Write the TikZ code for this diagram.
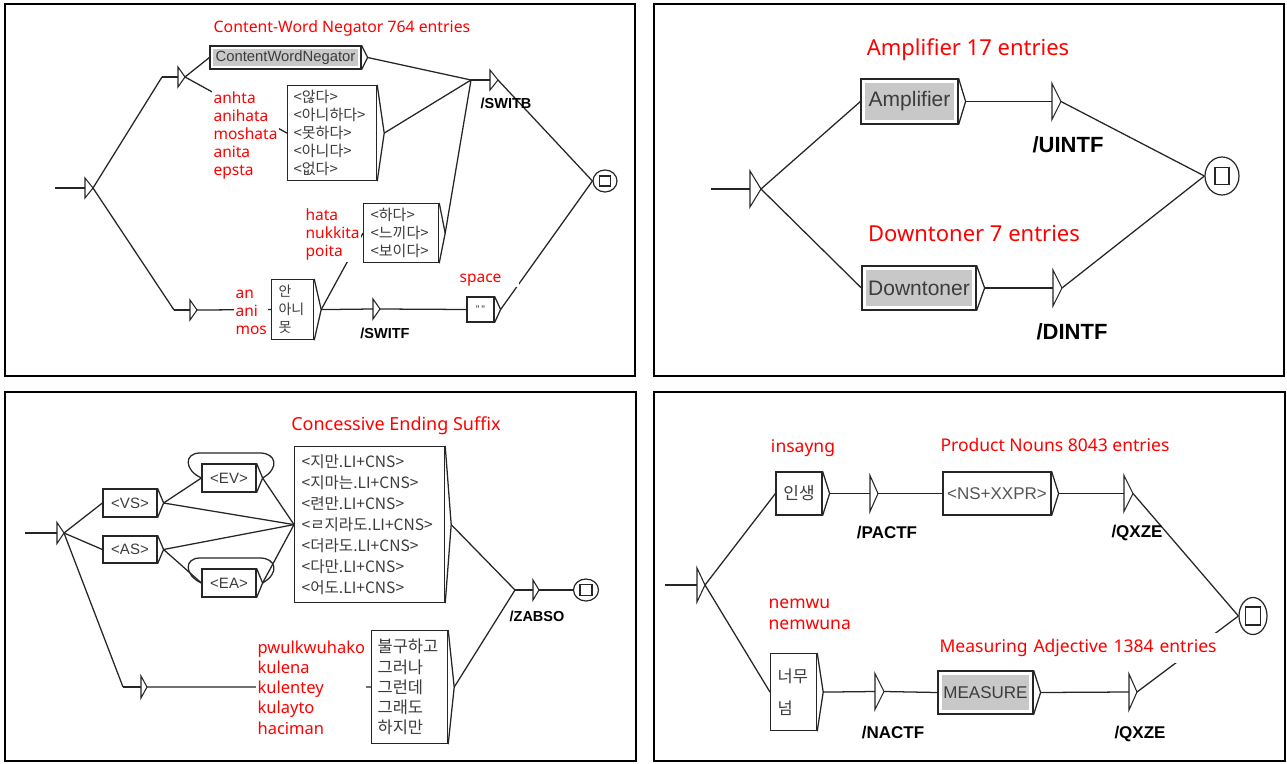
\documentclass[tikz,border=0pt]{standalone}
\usepackage{fontspec}
\setmainfont{Liberation Sans}
\newfontfamily\kr{Noto Sans CJK KR}
\newfontfamily\ns{Noto Sans}
\usetikzlibrary{calc,shapes.geometric}
\newcommand{\fpx}[2]{\fontsize{\fpeval{#1*0.75}}{\fpeval{#2*0.75}}\selectfont}
\newcommand{\pxu}{*0.75pt}
\definecolor{txt}{HTML}{3C3C3C}
\definecolor{txtb}{HTML}{555555}
\definecolor{bxgray}{HTML}{C8C8C8}
\definecolor{lred}{HTML}{FF0000}
\tikzset{
 ln/.style={line width=0.95pt, draw=black!85},
 st/.style={line width=0.8pt, draw=black!85},
 ub/.style={draw=black!85, line width=0.9pt, fill=white, inner sep=0pt, text=txt},
 gb/.style={ub, path picture={\fill[bxgray] ([shift={(#1,#1)}]path picture bounding box.north west) rectangle ([shift={(-#1,-#1)}]path picture bounding box.south east);}},
 gb/.default=4,
 panel/.style={draw=black, line width=1.6pt},
 rl/.style={text=lred, fill=white, inner sep=1pt},
 ol/.style={inner sep=0pt, text=black},
 fin/.style={draw=black!85, line width=0.9pt, ellipse, inner sep=0pt},
}
\newcommand{\ust}[6]{%
 \coordinate (#1-i) at (#2,#3);
 \coordinate (#1-a) at (#2-#6,#3);
 \coordinate (#1-o) at (#2+#5,#3);
 \draw[st] (#2,#3-#4/2) -- (#2,#3+#4/2) -- (#1-o) -- cycle;
 \ifdim#6pt>0pt \draw[ln] (#1-a) -- (#1-i);\fi}
\newcommand{\utip}[2]{\coordinate (#1-t) at ($(#1.east)+(#2,0)$);
 \draw[ln] (#1.north east) -- (#1-t) -- (#1.south east);}
\newcommand{\ufin}[7]{\node[fin, minimum width=#4\pxu, minimum height=#5\pxu] (#1) at (#2,#3) {};
 \draw[st] ($(#1.center)+(-#6/2,-#7/2)$) rectangle ($(#1.center)+(#6/2,#7/2)$);}
\begin{document}
\begin{tikzpicture}[x=0.75pt,y=-0.75pt]
\useasboundingbox (0,0) rectangle (1287,763);
\fill[white] (0,0) rectangle (1287,763);
\draw[panel] (5,4) rectangle (635,376);
\draw[panel] (654,4) rectangle (1284,376);
\draw[panel] (5,392) rectangle (636,761);
\draw[panel] (654,392) rectangle (1285,761);

% ================= PANEL 1 =================
\coordinate (e1) at (55,188);
\ust{s1}{85}{188}{20}{8}{0}
\ust{sA}{178}{77}{20}{7}{16}
\ust{sB}{490}{80}{20}{8}{19}
\ust{sC}{190}{310}{20}{7}{16}
\ust{sD}{373}{309}{20}{7}{0}
\node[gb=3, minimum width=151\pxu, minimum height=23\pxu, font=\fpx{14.8}{16}] (cwn) at (285.5,57.5) {ContentWordNegator};
\utip{cwn}{6}
\node[ub, anchor=north west, minimum height=95\pxu, inner xsep=6\pxu, text width=77\pxu, align=left, font={\kr\fpx{15}{18}}] (neg) at (287,85) {<않다>\\<아니하다>\\<못하다>\\<아니다>\\<없다>};
\utip{neg}{7}
\node[ub, anchor=north west, minimum height=60\pxu, inner xsep=7\pxu, text width=28\pxu, align=left, font={\kr\fpx{14}{18}}] (an) at (271,279) {안\\아니\\못};
\utip{an}{7}
\node[ub, anchor=north west, minimum height=59\pxu, inner xsep=7\pxu, text width=61\pxu, align=left, font={\kr\fpx{15}{18}}] (hada) at (363,203) {<하다>\\<느끼다>\\<보이다>};
\utip{hada}{6}
\node[ub, minimum width=27\pxu, minimum height=25\pxu, font=\fpx{11}{12}] (sp) at (480.5,309.5) {"\,"};
\utip{sp}{6}
\ufin{f1}{605}{181}{24}{22}{11}{10}
\draw[ln] (e1) -- (s1-i);
\draw[ln] (s1-o) -- (sA-a);
\draw[ln] (sA-o) -- (cwn.west);
\draw[ln] (sA-o) -- (neg.west);
\draw[ln] (cwn-t) -- (sB-a);
\draw[ln] (neg-t) -- (sB-a);
\draw[ln] (hada-t) -- (sB-a);
\draw[ln] (sB-o) -- (f1.west);
\draw[ln] (s1-o) -- (sC-a);
\draw[ln] (sC-o) -- (an.west);
\draw[ln] (an-t) -- (hada.west);
\draw[ln] (an-t) -- (sD-i);
\draw[ln] (sD-o) -- (sp.west);
\draw[ln] (sp-t) -- (f1.west);
\node[rl, font={\ns\fpx{15.8}{18}}] (t1) at (342,28) {Content-Word Negator 764 entries};
\node[rl, anchor=west, align=left, font={\ns\fpx{15.5}{18}}] (l1) at (212,135.5) {anhta\\anihata\\moshata\\anita\\epsta};
\node[rl, anchor=west, align=left, font={\ns\fpx{15.5}{18}}] (l2) at (234,312) {an\\ani\\mos};
\node[rl, anchor=west, align=left, font={\ns\fpx{15.5}{18}}] (l3) at (304,234.5) {hata\\nukkita\\poita};
\node[rl, anchor=west, text width=58\pxu, align=left, font={\ns\fpx{15.5}{18}}] (l4) at (458,280) {space};
\node[ol, font={\bfseries\fpx{14.5}{16}}] (o1) at (506,103) {/SWITB};
\node[ol, font={\bfseries\fpx{14.5}{16}}] (o2) at (385,333) {/SWITF};

% ================= PANEL 2 =================
\coordinate (e2) at (711,189);
\ust{s2}{750}{189}{36}{11}{0}
\node[gb=4, minimum width=97\pxu, minimum height=45\pxu, font=\fpx{21}{24}] (amp) at (909.5,101.5) {Amplifier};
\utip{amp}{7}
\ust{sU}{1052}{101.5}{36}{9}{0}
\node[gb=4, minimum width=114\pxu, minimum height=44\pxu, font=\fpx{21}{24}] (dwn) at (919,288) {Downtoner};
\utip{dwn}{8}
\ust{sV}{1053}{288}{36}{9}{0}
\ufin{f2}{1222}{176}{34}{38}{14}{17}
\draw[ln] (e2) -- (s2-i);
\draw[ln] (s2-o) -- (amp.west);
\draw[ln] (s2-o) -- (dwn.west);
\draw[ln] (amp-t) -- (sU-i);
\draw[ln] (dwn-t) -- (sV-i);
\draw[ln] (sU-o) -- (f2.west);
\draw[ln] (sV-o) -- (f2.west);
\node[rl, font={\ns\fpx{22}{24}}] (t2) at (968,50) {Amplifier 17 entries};
\node[rl, font={\ns\fpx{22}{24}}] (t3) at (974,234) {Downtoner 7 entries};
\node[ol, font={\bfseries\fpx{22}{24}}] (o3) at (1068,145) {/UINTF};
\node[ol, font={\bfseries\fpx{22}{24}}] (o4) at (1072,332) {/DINTF};

% ================= PANEL 3 =================
\coordinate (e3) at (25,533);
\ust{s3}{57}{533}{21}{7}{0}
\node[ub, minimum width=54\pxu, minimum height=28\pxu, font=\fpx{15}{17}] (vs) at (130,503) {<VS>};
\utip{vs}{6}
\node[ub, minimum width=54\pxu, minimum height=27\pxu, font=\fpx{15}{17}] (as) at (130,549.5) {<AS>};
\utip{as}{6}
\node[ub, minimum width=54\pxu, minimum height=28\pxu, font=\fpx{15}{17}] (ev) at (229,478) {<EV>};
\utip{ev}{6}
\node[ub, minimum width=54\pxu, minimum height=28\pxu, font=\fpx{15}{17}] (ea) at (229,583) {<EA>};
\utip{ea}{6}
\node[ub, anchor=north west, minimum height=156\pxu, inner xsep=7\pxu, text width=136\pxu, align=left, font={\kr\fpx{15.6}{21}}] (cns) at (294,446) {<지만.LI+CNS>\\<지마는.LI+CNS>\\<련만.LI+CNS>\\<ㄹ지라도.LI+CNS>\\<더라도.LI+CNS>\\<다만.LI+CNS>\\<어도.LI+CNS>};
\utip{cns}{6}
\ust{sL}{141}{687}{22}{6}{18}
\node[ub, anchor=north west, minimum height=113\pxu, inner xsep=6\pxu, text width=64\pxu, align=left, font={\kr\fpx{16.5}{20.25}}] (kb) at (371,630) {불구하고\\그러나\\그런데\\그래도\\하지만};
\utip{kb}{6}
\ust{sZ}{533}{590}{20}{6}{18}
\ufin{f3}{586}{590}{25}{22}{12}{11}
\draw[ln] (ev-t) .. controls (280,468) and (276,453) .. (260,453) -- (200,453) .. controls (184,453) and (184,470) .. (ev.west);
\draw[ln] (ea-t) .. controls (280,573) and (276,558) .. (260,558) -- (200,558) .. controls (184,558) and (184,575) .. (ea.west);
\draw[ln] (e3) -- (s3-i);
\draw[ln] (s3-o) -- (vs.west);
\draw[ln] (s3-o) -- (as.west);
\draw[ln] (s3-o) -- (sL-a);
\draw[ln] (vs-t) -- (ev.west);
\draw[ln] (vs-t) -- (cns.west);
\draw[ln] (as-t) -- (cns.west);
\draw[ln] (as-t) -- (ea.west);
\draw[ln] (ev-t) -- (cns.west);
\draw[ln] (ea-t) -- (cns.west);
\draw[ln] (sL-o) -- (kb.west);
\draw[ln] (cns-t) -- (sZ-a);
\draw[ln] (kb-t) -- (sZ-a);
\draw[ln] (sZ-o) -- (f3.west);
\node[rl, font={\ns\fpx{18}{20}}] (t4) at (396,426) {Concessive Ending Suffix};
\node[rl, anchor=west, align=left, font={\ns\fpx{16.5}{20.25}}] (l5) at (256,687.5) {pwulkwuhako\\kulena\\kulentey\\kulayto\\haciman};
\node[ol, font={\bfseries\fpx{14.5}{16}}] (o5) at (537,616) {/ZABSO};

% ================= PANEL 4 =================
\coordinate (e4) at (665,585);
\ust{s4}{697}{585}{34}{8}{0}
\node[ub, minimum width=46\pxu, minimum height=43\pxu, font={\kr\fpx{17}{20}}] (insa) at (799,493.5) {인생};
\utip{insa}{7}
\ust{sP}{870}{493.5}{36}{8}{0}
\node[ub, minimum width=108\pxu, minimum height=43\pxu, font=\fpx{17}{20}, text=txtb] (nsx) at (997,493.5) {<NS+XXPR>};
\utip{nsx}{7}
\ust{sQ}{1124}{493.5}{36}{9}{0}
\ufin{f4}{1253}{616}{28}{37}{15}{18}
\node[ub, anchor=north west, minimum height=77\pxu, inner xsep=7\pxu, text width=32\pxu, align=left, font={\kr\fpx{16.5}{32}}] (nm) at (770,653) {너무\\넘};
\utip{nm}{6}
\ust{sN}{875}{691.5}{36}{9}{0}
\node[gb=4, minimum width=95\pxu, minimum height=43\pxu, font=\fpx{17}{20}] (msr) at (985.5,692.5) {MEASURE};
\utip{msr}{7}
\ust{sQb}{1129}{692}{36}{8}{0}
\draw[ln] (e4) -- (s4-i);
\draw[ln] (s4-o) -- (insa.west);
\draw[ln] (s4-o) -- (nm.west);
\draw[ln] (insa-t) -- (sP-i);
\draw[ln] (sP-o) -- (nsx.west);
\draw[ln] (nsx-t) -- (sQ-i);
\draw[ln] (sQ-o) -- (f4.west);
\draw[ln] (nm-t) -- (sN-i);
\draw[ln] (sN-o) -- (msr.west);
\draw[ln] (msr-t) -- (sQb-i);
\draw[ln] (sQb-o) -- (f4.west);
\node[rl, font={\ns\fpx{17.5}{20}}] (t5) at (803,448) {insayng};
\node[rl, font={\ns\fpx{17.5}{20}}] (t6) at (1055,445) {Product Nouns 8043 entries};
\node[rl, anchor=west, align=left, font={\ns\fpx{17.5}{21}}] (l6) at (767,614.5) {nemwu\\nemwuna};
\node[rl, anchor=west, text width=292\pxu, inner ysep=6\pxu, align=left, font={\ns\fpx{17.5}{20}}] (t7) at (938,648) {Measuring Adjective 1384 entries};
\node[ol, font={\bfseries\fpx{17}{20}}] (o6) at (887,533) {/PACTF};
\node[ol, font={\bfseries\fpx{17}{20}}] (o7) at (1137,533) {/QXZE};
\node[ol, font={\bfseries\fpx{17}{20}}] (o8) at (893,733) {/NACTF};
\node[ol, font={\bfseries\fpx{17}{20}}] (o9) at (1140,734) {/QXZE};
\end{tikzpicture}
\end{document}
